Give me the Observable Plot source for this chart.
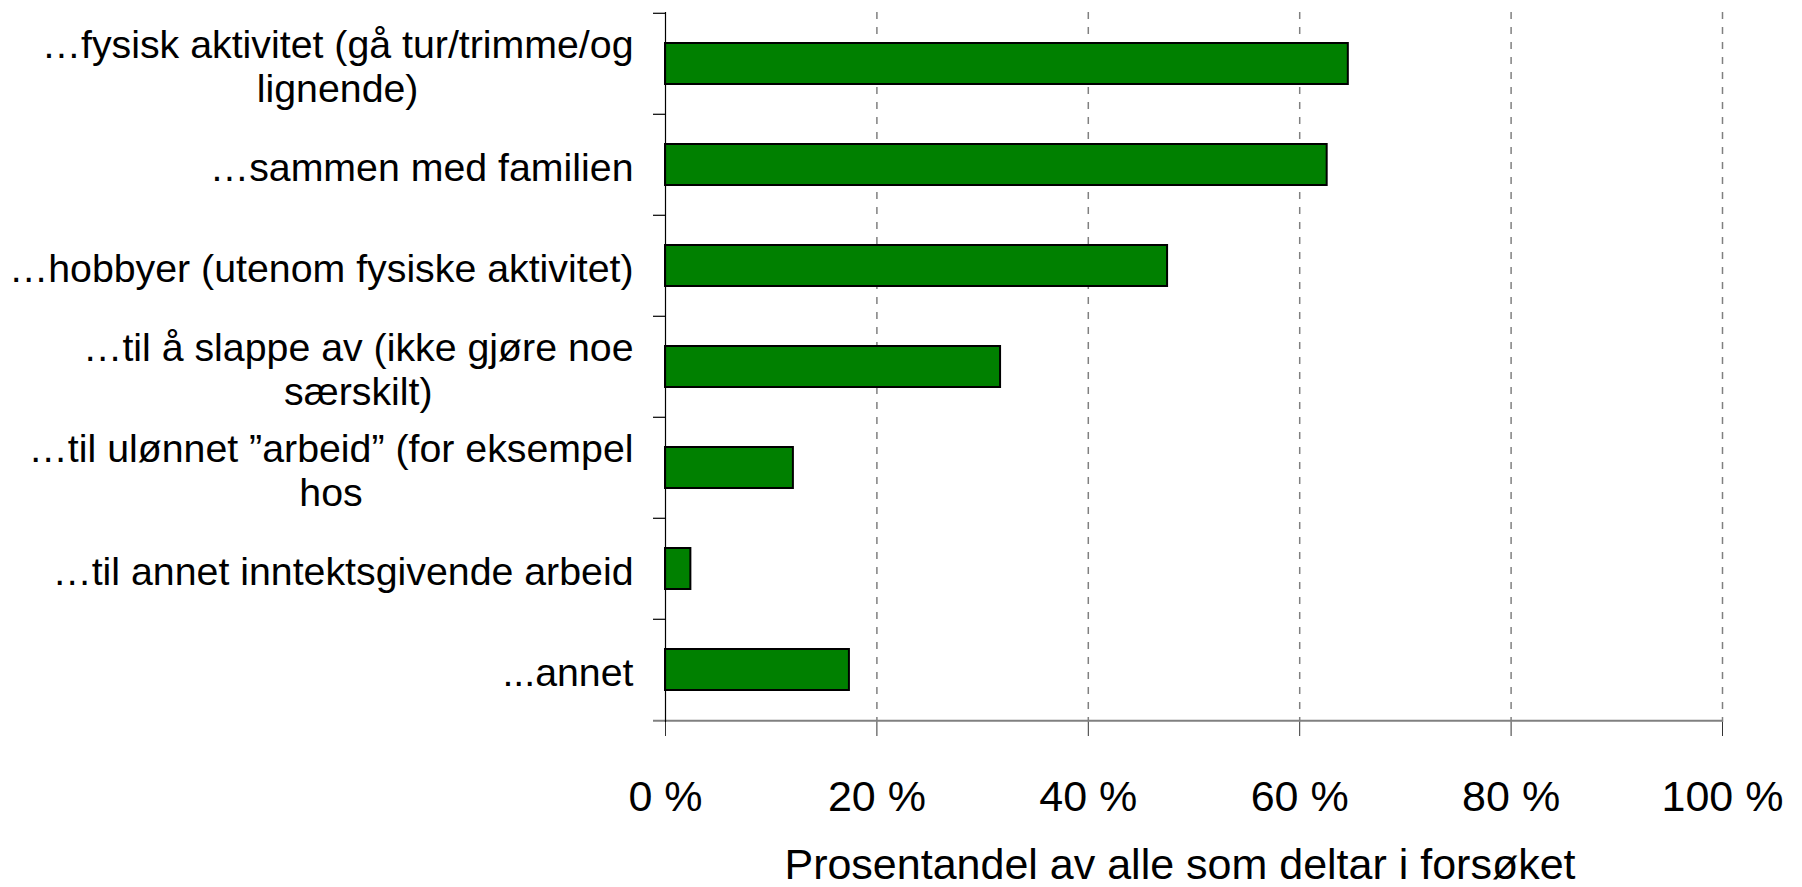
<!DOCTYPE html>
<html><head><meta charset="utf-8">
<script src="https://cdn.jsdelivr.net/npm/d3@7"></script>
<script src="https://cdn.jsdelivr.net/npm/@observablehq/plot@0.6"></script>
<style>html,body{margin:0;padding:0;background:#fff;overflow:hidden}</style>
</head><body><div id="chart"></div>
<script>
const categories = [
  "…fysisk aktivitet (gå tur/trimme/og\nlignende)",
  "…sammen med familien",
  "…hobbyer (utenom fysiske aktivitet)",
  "…til å slappe av (ikke gjøre noe\nsærskilt)",
  "…til ulønnet ”arbeid” (for eksempel\nhos",
  "…til annet inntektsgivende arbeid",
  "...annet"
];
const values = [64.6, 62.6, 47.5, 31.7, 12.1, 2.4, 17.4];
const xTicks = [0, 20, 40, 60, 80, 100];
const gridTicks = [20, 40, 60, 80, 100];
const xTitle = "Prosentandel av alle som deltar i forsøket";

const FAM = "'Liberation Sans', Arial, sans-serif";
const ctx = document.createElement("canvas").getContext("2d");
function measure(text, size) { ctx.font = `${size}px ${FAM}`; return ctx.measureText(text).width; }
const labelFont = 39.3;
const tickFont = 43;
const titleFont = 43;
const lineH = 43.7;

const W = 1802, H = 887;
const mL = 665, mR = 80, mT = 12, mB = 165;
const step = (H - mT - mB) / categories.length;
const data = categories.map((c, i) => ({category: c, value: values[i]}));
const labelGap = 32;

const labelMarks = categories.map((c) => {
  const lines = c.split("\n");
  const w = Math.max(...lines.map(l => measure(l, labelFont)));
  return Plot.text([c], {
    y: d => d, text: d => d, frameAnchor: "left", textAnchor: "middle",
    dx: -(labelGap + w / 2), dy: 2, fontSize: labelFont,
    lineHeight: lineH / labelFont, lineAnchor: "middle", fill: "black"
  });
});

const plot = Plot.plot({
  width: W, height: H,
  marginLeft: mL, marginRight: mR, marginTop: mT, marginBottom: mB,
  style: {fontFamily: FAM, background: "white", color: "black"},
  x: {domain: [0, 100], label: null, axis: null},
  y: {domain: categories, paddingInner: 0.59, paddingOuter: 0.295, label: null, axis: null},
  marks: [
    Plot.ruleX(gridTicks, {stroke: "#808080", strokeDasharray: "7,8", strokeWidth: 1.5}),
    Plot.barX(data, {x: "value", y: "category", fill: "#008000", stroke: "black", strokeWidth: 2}),
    Plot.ruleY([categories[categories.length - 1]], {y: d => d, x1: 0, x2: 100, insetLeft: -12, dy: step / 2, stroke: "#808080", strokeWidth: 2}),
    Plot.ruleX([0], {stroke: "black", strokeWidth: 1.2}),
    Plot.ruleY(categories, {y: d => d, x1: 0, x2: 0, insetLeft: -12, dy: -step / 2, stroke: "black", strokeWidth: 1.2}),
    Plot.axisX(xTicks, {tickSize: 14, tickPadding: 44, fontSize: tickFont, tickFormat: d => `${d} %`, label: null, stroke: "#333"}),
    ...labelMarks,
    Plot.text([xTitle], {text: d => d, frameAnchor: "bottom", dy: 143, dx: -14, lineAnchor: "middle", fontSize: titleFont, fill: "black"})
  ]
});
document.getElementById("chart").appendChild(plot);
</script>
</body></html>
